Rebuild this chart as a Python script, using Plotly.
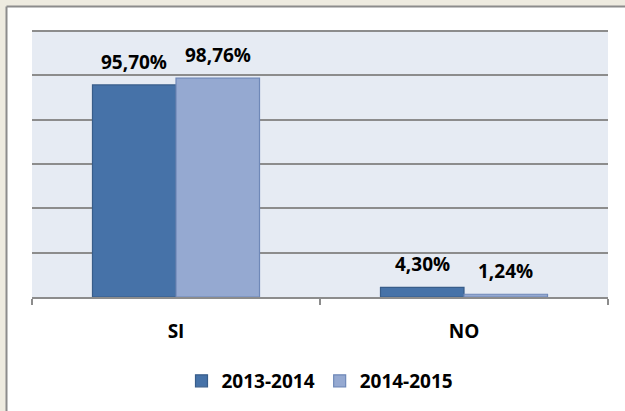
import plotly.graph_objects as go

categories = ["SI", "NO"]
series_names = ["2013-2014", "2014-2015"]
values_2013_2014 = [95.70, 4.30]
values_2014_2015 = [98.76, 1.24]
series_values = [values_2013_2014, values_2014_2015]

W, H = 625, 411
L, R, T, B = 32, 17, 30, 113
pw, ph = W - L - R, H - T - B

def px_x(x):
    return (x - L) / pw

def px_y(y):
    return 1 - (y - T) / ph

FONT = "Open Sans"
FS = 19
colors = ["#4672A8", "#95A9D1"]
borders = ["#385D8A", "#6F88B8"]
BARGAP = 0.42
bar_px = pw / len(categories) * (1 - BARGAP) / len(series_names)

fig = go.Figure()
annotations = []
for i, (name, vals, c, bc) in enumerate(zip(series_names, series_values, colors, borders)):
    fig.add_trace(go.Bar(
        x=categories, y=vals, name=name,
        marker=dict(color=c, line=dict(color=bc, width=1.2)),
    ))
    for cat, v in zip(categories, vals):
        annotations.append(dict(
            x=cat, y=v, xref="x", yref="y", text=f"{v:.2f}%".replace(".", ","),
            showarrow=False, yanchor="bottom", xanchor="center",
            xshift=(i - 0.5) * bar_px, yshift=8,
            font=dict(family=FONT, size=FS, color="black", weight="bold"),
        ))

shapes = [
    dict(type="rect", xref="paper", yref="paper", x0=px_x(-2), x1=px_x(6), y0=px_y(H + 2), y1=px_y(-2),
         fillcolor="#EEEBE0", line=dict(width=0), layer="below"),
    dict(type="rect", xref="paper", yref="paper", x0=px_x(-2), x1=px_x(W + 4), y0=px_y(6), y1=px_y(-2),
         fillcolor="#EEEBE0", line=dict(width=0), layer="below"),
    dict(type="line", xref="paper", yref="paper", x0=px_x(6.5), x1=px_x(6.5), y0=px_y(H + 2), y1=px_y(6.5),
         line=dict(color="#8C8C8C", width=2), layer="below"),
    dict(type="line", xref="paper", yref="paper", x0=px_x(6.5), x1=px_x(W + 4), y0=px_y(6.5), y1=px_y(6.5),
         line=dict(color="#8C8C8C", width=2), layer="below"),
]

fig.update_layout(
    width=W, height=H,
    margin=dict(l=L, r=R, t=T, b=B),
    paper_bgcolor="white", plot_bgcolor="#E6EBF3",
    barmode="group", bargap=BARGAP, bargroupgap=0,
    showlegend=True,
    legend=dict(orientation="h", x=0.5, xanchor="center", y=px_y(381), yanchor="middle",
                font=dict(family=FONT, size=FS, color="black", weight="bold"),
                itemwidth=30, traceorder="normal"),
    shapes=shapes,
    annotations=annotations,
    xaxis=dict(showline=True, linecolor="#8C8C8C", linewidth=2,
               ticks="outside", tickson="boundaries", ticklen=6, tickcolor="#8C8C8C", tickwidth=2,
               tickfont=dict(family=FONT, size=FS, color="black", weight="bold"),
               ticklabelstandoff=16, fixedrange=True),
    yaxis=dict(range=[0, 120.5], dtick=20, showticklabels=False, showgrid=True,
               gridcolor="#8C8C8C", gridwidth=2, zeroline=False, showline=False, fixedrange=True),
)

fig.write_html("out.html", config={"displayModeBar": False, "staticPlot": True},
               post_script="document.body.style.margin='0';document.body.style.overflow='hidden';")
